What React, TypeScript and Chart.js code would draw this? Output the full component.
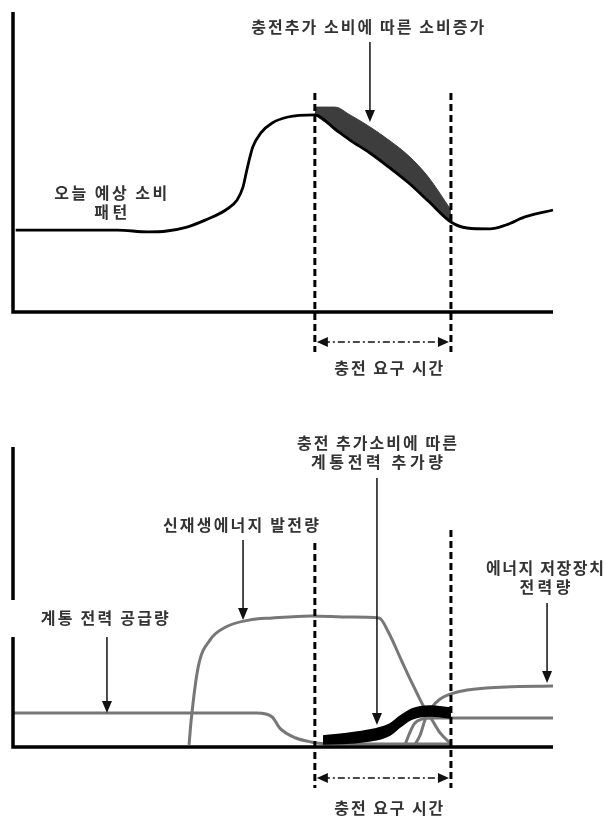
import React, { useEffect, useRef } from 'react';
import { Chart, registerables } from 'chart.js';

Chart.register(...registerables);

// ---------- Top chart: today's expected consumption pattern ----------
const todayBeforeX = [0.5, 19.3, 25, 28.5, 32.2, 35.7, 39.4, 41.5, 42.6, 43.3, 44.4, 45.9, 48, 50.9];
const todayBeforeY = [27.3, 27.3, 26.7, 27, 28.3, 30.7, 34, 37.3, 41.7, 47.3, 55, 59.7, 63, 65];
const chargeBandX = [55.9, 59.6, 62.4, 66.1, 69.6, 73.3, 76.9, 81.1];
const chargeBandLower = [65.7, 61, 57.3, 53, 48.3, 43, 37, 30];
const chargeBandUpper = [68.3, 68.3, 65.7, 61.7, 57.3, 52, 45, 34];
const todayAfterX = [84.1, 88.3, 91.3, 94.8, 100];
const todayAfterY = [28, 27.7, 29, 31.7, 34];

// ---------- Bottom chart: supply composition ----------
const gridX = [0, 29.1, 45.2, 48, 49.4, 52.4, 55.2, 58.7, 81.1];
const gridY = [11.3, 11.3, 11.3, 10, 6.3, 3, 1.7, 1, 1];
const renewX = [32.6, 33, 34.3, 36.5, 39.4, 43.7, 48, 55.2, 62.4, 67.8, 69.6, 71.9, 73.9, 76.1, 77.6, 79.1, 81.1];
const renewY = [0.7, 9, 26.7, 35.7, 40, 42.3, 43, 43.7, 43.3, 43, 38, 29, 21.3, 13.3, 9, 4.7, 1];
const extraX = [57.4, 62.4, 67, 69.8, 71.7, 73.9, 77.2, 81.1];
const extraUpper = [3.7, 4.7, 6, 7.7, 10.3, 12.7, 13.7, 13];
const extraLower = [1, 1.3, 2.3, 4, 6.7, 9.3, 10.3, 9.7];
const storageX = [74.4, 75.4, 76.3, 77.6, 79.1, 81.1, 84.1, 91.3, 100];
const storageY = [0.7, 4, 9, 13.3, 16, 17.7, 19, 20, 20.3];
const gridAfterX = [72.6, 73.3, 74.3, 75.7, 78.1, 81.1, 100];
const gridAfterY = [0.7, 4, 7.7, 9.3, 9.7, 9.7, 9.7];

// charging window (x) shared by both charts
const chargeStart = 55.9;
const chargeEnd = 81.1;

const pts = (xs: number[], ys: number[]) => xs.map((x, i) => ({ x, y: ys[i] }));

const FONT = 'bold 16px "Noto Sans CJK KR", "Noto Sans", sans-serif';
const TEXT = '#333333';
const GRAY = '#777777';

function P(chart: any, x: number, y: number): [number, number] {
  return [chart.scales.x.getPixelForValue(x), chart.scales.y.getPixelForValue(y)];
}

function drawText(ctx: CanvasRenderingContext2D, text: string, cx: number, cy: number, width: number) {
  ctx.save();
  ctx.font = FONT;
  ctx.fillStyle = TEXT;
  ctx.textBaseline = 'middle';
  ctx.textAlign = 'left';
  const chars = Array.from(text);
  const ws = chars.map((c) => ctx.measureText(c).width);
  const nat = ws.reduce((a, b) => a + b, 0);
  const extra = chars.length > 1 ? Math.max(0, (width - nat) / (chars.length - 1)) : 0;
  let x = cx - (nat + extra * (chars.length - 1)) / 2;
  chars.forEach((c, i) => {
    ctx.fillText(c, x, cy);
    x += ws[i] + extra;
  });
  ctx.restore();
}

function vArrow(ctx: CanvasRenderingContext2D, x: number, y1: number, y2: number) {
  ctx.save();
  ctx.strokeStyle = '#111';
  ctx.fillStyle = '#111';
  ctx.lineWidth = 1.5;
  ctx.beginPath();
  ctx.moveTo(x, y1);
  ctx.lineTo(x, y2 - 8);
  ctx.stroke();
  ctx.beginPath();
  ctx.moveTo(x, y2);
  ctx.lineTo(x - 5, y2 - 12);
  ctx.lineTo(x + 5, y2 - 12);
  ctx.closePath();
  ctx.fill();
  ctx.restore();
}

function dimArrow(ctx: CanvasRenderingContext2D, xa: number, xb: number, y: number) {
  ctx.save();
  ctx.strokeStyle = '#111';
  ctx.fillStyle = '#111';
  ctx.lineWidth = 1.5;
  ctx.setLineDash([7, 3, 2, 3]);
  ctx.beginPath();
  ctx.moveTo(xa + 8, y);
  ctx.lineTo(xb - 8, y);
  ctx.stroke();
  ctx.setLineDash([]);
  ctx.beginPath();
  ctx.moveTo(xa + 2, y);
  ctx.lineTo(xa + 13, y - 5);
  ctx.lineTo(xa + 13, y + 5);
  ctx.closePath();
  ctx.fill();
  ctx.beginPath();
  ctx.moveTo(xb - 2, y);
  ctx.lineTo(xb - 13, y - 5);
  ctx.lineTo(xb - 13, y + 5);
  ctx.closePath();
  ctx.fill();
  ctx.restore();
}

function dashedV(ctx: CanvasRenderingContext2D, x: number, y1: number, y2: number) {
  ctx.save();
  ctx.strokeStyle = '#000';
  ctx.lineWidth = 3;
  ctx.setLineDash([7, 4]);
  ctx.beginPath();
  ctx.moveTo(x, y1);
  ctx.lineTo(x, y2);
  ctx.stroke();
  ctx.restore();
}

function axes(ctx: CanvasRenderingContext2D, chart: any, gap?: [number, number]) {
  const [x0, y0] = P(chart, 0, 0);
  const [x1, yTop] = P(chart, 100, 100);
  ctx.save();
  ctx.strokeStyle = '#000';
  ctx.lineWidth = 3.5;
  ctx.lineCap = 'butt';
  ctx.beginPath();
  if (gap) {
    const g1 = chart.scales.y.getPixelForValue(gap[0]);
    const g2 = chart.scales.y.getPixelForValue(gap[1]);
    ctx.moveTo(x0, yTop);
    ctx.lineTo(x0, g1);
    ctx.moveTo(x0, g2);
    ctx.lineTo(x0, y0 + 1.75);
  } else {
    ctx.moveTo(x0, yTop);
    ctx.lineTo(x0, y0 + 1.75);
  }
  ctx.moveTo(x0 - 1.75, y0);
  ctx.lineTo(x1, y0);
  ctx.stroke();
  ctx.restore();
}

const topAnnotations = {
  id: 'topAnnotations',
  afterDraw(chart: any) {
    const ctx = chart.ctx as CanvasRenderingContext2D;
    axes(ctx, chart);
    const [xs, yTop] = P(chart, chargeStart, 73);
    const [xe, yBot] = P(chart, chargeEnd, -13.3);
    dashedV(ctx, xs, yTop, yBot);
    dashedV(ctx, xe, yTop, yBot);
    const yDim = chart.scales.y.getPixelForValue(-10);
    dimArrow(ctx, xs, xe, yDim);
    const [cx1, ty1] = P(chart, 69.6, -18.7);
    drawText(ctx, '충전 요구 시간', cx1, ty1, 109);
    const [lx, ly] = P(chart, 65.7, 95);
    drawText(ctx, '충전추가 소비에 따른 소비증가', lx, ly, 233);
    const [ax, ay1] = P(chart, 66.1, 90);
    const ay2 = chart.scales.y.getPixelForValue(63.3);
    vArrow(ctx, ax, ay1, ay2);
    const [ox, oy] = P(chart, 18.1, 39.7);
    drawText(ctx, '오늘 예상 소비', ox, oy, 113);
    const oy2 = chart.scales.y.getPixelForValue(33.3);
    drawText(ctx, '패턴', ox, oy2, 33);
  },
};

const bottomAnnotations = {
  id: 'bottomAnnotations',
  afterDraw(chart: any) {
    const ctx = chart.ctx as CanvasRenderingContext2D;
    axes(ctx, chart, [49, 36.7]);
    const y = chart.scales.y;
    const [xs] = P(chart, chargeStart, 0);
    const [xe] = P(chart, chargeEnd, 0);
    dashedV(ctx, xs, y.getPixelForValue(68), y.getPixelForValue(-13.7));
    dashedV(ctx, xe, y.getPixelForValue(72.3), y.getPixelForValue(-13.7));
    dimArrow(ctx, xs, xe, y.getPixelForValue(-10.3));
    const [cx1, ty1] = P(chart, 69.6, -20.3);
    drawText(ctx, '충전 요구 시간', cx1, ty1, 109);

    const [gx, gy] = P(chart, 17, 43);
    drawText(ctx, '계통 전력 공급량', gx, gy, 128);
    const [gax] = P(chart, 17.4, 0);
    vArrow(ctx, gax, y.getPixelForValue(36.7), y.getPixelForValue(11.3));

    const [rx, ry] = P(chart, 42.2, 74);
    drawText(ctx, '신재생에너지 발전량', rx, ry, 156);
    const [rax] = P(chart, 42.6, 0);
    vArrow(ctx, rax, y.getPixelForValue(69), y.getPixelForValue(42.3));

    const [ex, ey] = P(chart, 67.4, 101.3);
    drawText(ctx, '충전 추가소비에 따른', ex, ey, 160);
    drawText(ctx, '계통전력 추가량', ex, y.getPixelForValue(95), 132);
    vArrow(ctx, ex, y.getPixelForValue(89.7), y.getPixelForValue(7.3));

    const [sx, sy] = P(chart, 98.5, 59.7);
    drawText(ctx, '에너지 저장장치', sx, sy, 118);
    drawText(ctx, '전력량', sx, y.getPixelForValue(53.3), 51);
    const [sax] = P(chart, 98.9, 0);
    vArrow(ctx, sax, y.getPixelForValue(48), y.getPixelForValue(21.3));
  },
};

const baseOptions = (padTop: number, padBottom: number) => ({
  responsive: false,
  animation: false as const,
  events: [] as any[],
  layout: { padding: { left: 13, right: 54, top: padTop, bottom: padBottom } },
  plugins: { legend: { display: false }, tooltip: { enabled: false } },
  scales: {
    x: { type: 'linear' as const, min: 0, max: 100, display: false },
    y: { type: 'linear' as const, min: 0, max: 100, display: false },
  },
  elements: { point: { radius: 0 }, line: { cubicInterpolationMode: 'monotone' as const } },
});

export default function App() {
  const topRef = useRef<HTMLCanvasElement>(null);
  const botRef = useRef<HTMLCanvasElement>(null);

  useEffect(() => {
    document.body.style.margin = '0';
    document.body.style.background = '#ffffff';
    const todayLine = pts(
      [...todayBeforeX, ...chargeBandX, ...todayAfterX],
      [...todayBeforeY, ...chargeBandLower, ...todayAfterY]
    );
    const top = new Chart(topRef.current!, {
      type: 'line',
      data: {
        datasets: [
          { label: '오늘 예상 소비 패턴', data: todayLine, borderColor: '#000', borderWidth: 2.8, fill: false, clip: false },
          { label: '소비증가 상단', data: pts(chargeBandX, chargeBandUpper), borderColor: '#3d3d3d', borderWidth: 1, backgroundColor: '#3d3d3d', fill: '+1', clip: false },
          { label: '소비증가 하단', data: pts(chargeBandX, chargeBandLower), borderColor: '#3d3d3d', borderWidth: 1, fill: false, clip: false },
        ],
      },
      options: baseOptions(12, 88) as any,
      plugins: [topAnnotations],
    });
    const bot = new Chart(botRef.current!, {
      type: 'line',
      data: {
        datasets: [
          { label: '계통전력 추가량 상단', data: pts(extraX, extraUpper), borderColor: '#000', borderWidth: 1.5, backgroundColor: '#000', fill: '+1', clip: false },
          { label: '계통전력 추가량 하단', data: pts(extraX, extraLower), borderColor: '#000', borderWidth: 1.5, fill: false, clip: false },
          { label: '계통 전력 공급량', data: pts(gridX, gridY), borderColor: GRAY, borderWidth: 3, fill: false, clip: false },
          { label: '신재생에너지 발전량', data: pts(renewX, renewY), borderColor: GRAY, borderWidth: 3, fill: false, clip: false },
          { label: '에너지 저장장치 전력량', data: pts(storageX, storageY), borderColor: GRAY, borderWidth: 3, fill: false, clip: false },
          { label: '계통 전력 공급량 (충전 후)', data: pts(gridAfterX, gridAfterY), borderColor: GRAY, borderWidth: 3, fill: false, clip: false },
        ],
      },
      options: baseOptions(47, 74) as any,
      plugins: [bottomAnnotations],
    });
    return () => {
      top.destroy();
      bot.destroy();
    };
  }, []);

  return (
    <div style={{ width: 607, height: 821, background: '#fff', position: 'relative' }}>
      <canvas ref={topRef} width={607} height={400} style={{ display: 'block' }} />
      <canvas ref={botRef} width={607} height={421} style={{ display: 'block' }} />
    </div>
  );
}
